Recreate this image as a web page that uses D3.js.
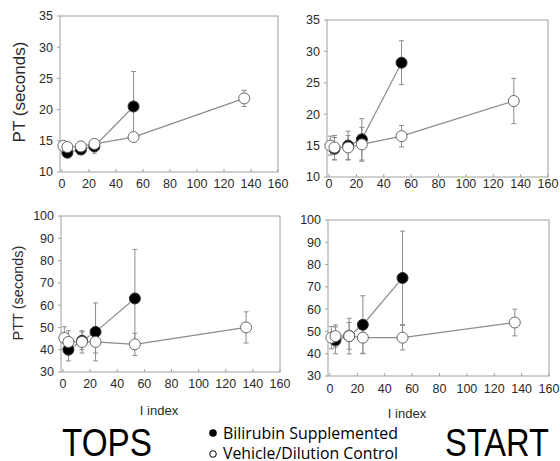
<!DOCTYPE html>
<html>
<head>
<meta charset="utf-8">
<script src="https://cdn.jsdelivr.net/npm/d3@7"></script>
<style>
  html, body { margin: 0; padding: 0; background: #fff; }
  svg { display: block; font-family: "Liberation Sans", Arial, sans-serif; }
</style>
</head>
<body>
<svg id="chart" width="560" height="461"></svg>
<script>
// I index values for each group
const xVehicle = [1, 4, 14, 24, 53, 135];
const xBilirubin = [4, 14, 24, 53];

// TOPS – PT (seconds)
const topsPtBili = [13.1, 13.6, 14.1, 20.5];
const topsPtBiliErr = [0.5, 0.5, 1.1, 5.6];
const topsPtVeh = [14.2, 14.0, 14.1, 14.5, 15.6, 21.8];
const topsPtVehErr = [0.4, 0.4, 0.4, 0.6, 0.5, 1.3];

// START – PT (seconds)
const startPtBili = [14.5, 15.0, 16.0, 28.2];
const startPtBiliErr = [1.8, 2.3, 3.3, 3.5];
const startPtVeh = [15.0, 14.7, 14.7, 15.2, 16.5, 22.1];
const startPtVehErr = [1.5, 1.9, 1.9, 2.7, 1.7, 3.6];

// TOPS – PTT (seconds)
const topsPttBili = [40, 44, 48, 63];
const topsPttBiliErr = [5, 4, 13, 22];
const topsPttVeh = [45.3, 43.5, 43.5, 43.5, 42.4, 50.0];
const topsPttVehErr = [5, 5, 5, 5, 5, 7];

// START – PTT (seconds)
const startPttBili = [46, 48, 53, 74];
const startPttBiliErr = [6, 6, 13, 21];
const startPttVeh = [47.2, 47.9, 47.9, 47.2, 47.2, 54.0];
const startPttVehErr = [5, 5, 8, 7, 5.5, 6];

const xTicks = [0, 20, 40, 60, 80, 100, 120, 140, 160];
const ptTicks = [10, 15, 20, 25, 30, 35];
const pttTicks = [30, 40, 50, 60, 70, 80, 90, 100];

const svg = d3.select("#chart");

const panels = [
  { x0: 62, x1: 278, yTop: 16, yBot: 172, yDom: [10, 35], yTicks: ptTicks, xLabY: 184,
    bili: topsPtBili, biliErr: topsPtBiliErr, veh: topsPtVeh, vehErr: topsPtVehErr },
  { x0: 329, x1: 548, yTop: 20, yBot: 177, yDom: [10, 35], yTicks: ptTicks, xLabY: 184,
    bili: startPtBili, biliErr: startPtBiliErr, veh: startPtVeh, vehErr: startPtVehErr },
  { x0: 63, x1: 280, yTop: 216, yBot: 372, yDom: [30, 100], yTicks: pttTicks, xLabY: 384,
    bili: topsPttBili, biliErr: topsPttBiliErr, veh: topsPttVeh, vehErr: topsPttVehErr },
  { x0: 330, x1: 549, yTop: 220, yBot: 376, yDom: [30, 100], yTicks: pttTicks, xLabY: 389,
    bili: startPttBili, biliErr: startPttBiliErr, veh: startPttVeh, vehErr: startPttVehErr }
];

const lineCol = "#8c8c8c";
const frameCol = "#a0a0a0";
const textCol = "#2a2a2a";

panels.forEach(p => {
  const x = d3.scaleLinear().domain([0, 160]).range([p.x0, p.x1]);
  const y = d3.scaleLinear().domain(p.yDom).range([p.yBot, p.yTop]);
  const g = svg.append("g");
  const left = p.x0 - 2;

  // frame
  g.append("rect")
    .attr("x", left).attr("y", p.yTop)
    .attr("width", p.x1 - left).attr("height", p.yBot - p.yTop)
    .attr("fill", "none").attr("stroke", frameCol).attr("stroke-width", 1);

  // y ticks
  p.yTicks.forEach(t => {
    g.append("line").attr("x1", left - 3).attr("x2", left)
      .attr("y1", y(t)).attr("y2", y(t)).attr("stroke", frameCol);
    g.append("text").attr("x", left - 7).attr("y", y(t)).attr("dy", "0.35em")
      .attr("text-anchor", "end").attr("font-size", 12.5).attr("fill", textCol).text(t);
  });
  // x ticks
  xTicks.forEach(t => {
    g.append("line").attr("x1", x(t)).attr("x2", x(t))
      .attr("y1", p.yBot - 3).attr("y2", p.yBot).attr("stroke", frameCol);
    g.append("text").attr("x", x(t)).attr("y", p.xLabY).attr("dy", "0.35em")
      .attr("text-anchor", "middle").attr("font-size", 12.5).attr("fill", textCol).text(t);
  });

  const line = d3.line().x(d => x(d[0])).y(d => y(d[1]));
  const vehPts = xVehicle.map((v, i) => [v, p.veh[i], p.vehErr[i]]);
  const biliPts = xBilirubin.map((v, i) => [v, p.bili[i], p.biliErr[i]]);

  // connecting lines
  [biliPts, vehPts].forEach(pts => {
    g.append("path").attr("d", line(pts)).attr("fill", "none")
      .attr("stroke", lineCol).attr("stroke-width", 1.2);
  });

  // error bars
  const drawErr = pts => pts.forEach(d => {
    const cx = x(d[0]), yu = y(d[1] + d[2]), yl = y(d[1] - d[2]);
    g.append("line").attr("x1", cx).attr("x2", cx).attr("y1", yu).attr("y2", yl)
      .attr("stroke", lineCol).attr("stroke-width", 1);
    [yu, yl].forEach(yy => g.append("line").attr("x1", cx - 2.5).attr("x2", cx + 2.5)
      .attr("y1", yy).attr("y2", yy).attr("stroke", lineCol).attr("stroke-width", 1));
  });
  drawErr(biliPts);
  drawErr(vehPts);

  // markers: filled first, open on top
  biliPts.forEach(d => g.append("circle").attr("cx", x(d[0])).attr("cy", y(d[1]))
    .attr("r", 5.5).attr("fill", "#000").attr("stroke", "#333").attr("stroke-width", 1));
  vehPts.forEach(d => g.append("circle").attr("cx", x(d[0])).attr("cy", y(d[1]))
    .attr("r", 5.5).attr("fill", "#fff").attr("stroke", "#666").attr("stroke-width", 1));
});

// axis titles
svg.append("text").attr("transform", "translate(25,92) rotate(-90)")
  .attr("text-anchor", "middle").attr("font-size", 17).attr("fill", textCol).text("PT (seconds)");
svg.append("text").attr("transform", "translate(23,293) rotate(-90)")
  .attr("text-anchor", "middle").attr("font-size", 14.5).attr("fill", textCol).text("PTT (seconds)");
svg.append("text").attr("x", 159).attr("y", 410).attr("dy", "0.35em")
  .attr("text-anchor", "middle").attr("font-size", 13).attr("fill", textCol).text("I index");
svg.append("text").attr("x", 407).attr("y", 413).attr("dy", "0.35em")
  .attr("text-anchor", "middle").attr("font-size", 13).attr("fill", textCol).text("I index");

// study names
svg.append("text").attr("x", 62).attr("y", 456).attr("font-size", 38)
  .attr("textLength", 90).attr("lengthAdjust", "spacingAndGlyphs").attr("fill", "#000").text("TOPS");
svg.append("text").attr("x", 445).attr("y", 456).attr("font-size", 38)
  .attr("textLength", 104).attr("lengthAdjust", "spacingAndGlyphs").attr("fill", "#000").text("START");

// legend
svg.append("circle").attr("cx", 213).attr("cy", 433).attr("r", 3.8).attr("fill", "#000");
svg.append("circle").attr("cx", 213).attr("cy", 454).attr("r", 3.3).attr("fill", "#fff")
  .attr("stroke", "#000").attr("stroke-width", 1);
svg.append("text").attr("x", 223).attr("y", 438.5).attr("font-size", 16)
  .attr("font-family", "'Open Sans', sans-serif")
  .attr("textLength", 175).attr("lengthAdjust", "spacingAndGlyphs").attr("fill", "#000")
  .text("Bilirubin Supplemented");
svg.append("text").attr("x", 223).attr("y", 459).attr("font-size", 16)
  .attr("font-family", "'Open Sans', sans-serif")
  .attr("textLength", 175).attr("lengthAdjust", "spacingAndGlyphs").attr("fill", "#000")
  .text("Vehicle/Dilution Control");
</script>
</body>
</html>
